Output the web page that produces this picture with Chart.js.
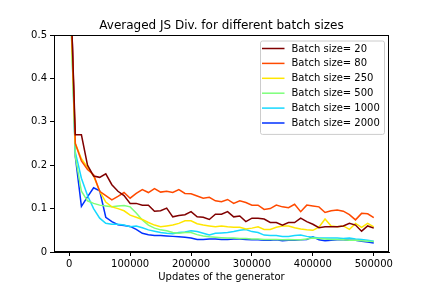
<!DOCTYPE html>
<html>
<head>
<meta charset="utf-8">
<script src="https://cdn.jsdelivr.net/npm/chart.js@4"></script>
<style>
  html, body { margin: 0; padding: 0; background: #fff; }
  #chart { display: block; }
</style>
</head>
<body>
<canvas id="chart" width="432" height="288"></canvas>
<script>
// x positions (generator updates), one point every 10000
const updates = [
  0, 10000, 20000, 30000, 40000, 50000, 60000, 70000, 80000, 90000,
  100000, 110000, 120000, 130000, 140000, 150000, 160000, 170000, 180000, 190000,
  200000, 210000, 220000, 230000, 240000, 250000, 260000, 270000, 280000, 290000,
  300000, 310000, 320000, 330000, 340000, 350000, 360000, 370000, 380000, 390000,
  400000, 410000, 420000, 430000, 440000, 450000, 460000, 470000, 480000, 490000,
  500000
];

const batchLabels = ["Batch size= 20", "Batch size= 80", "Batch size= 250",
  "Batch size= 500", "Batch size= 1000", "Batch size= 2000"];

const batch20 = [
  0.70, 0.27, 0.27, 0.20, 0.175, 0.172, 0.18, 0.155, 0.14, 0.13,
  0.112, 0.112, 0.108, 0.108, 0.094, 0.095, 0.101, 0.081, 0.084, 0.086,
  0.093, 0.081, 0.080, 0.075, 0.087, 0.087, 0.093, 0.081, 0.083, 0.070,
  0.078, 0.078, 0.076, 0.068, 0.068, 0.062, 0.068, 0.068, 0.078, 0.070,
  0.064, 0.056, 0.058, 0.058, 0.058, 0.060, 0.066, 0.062, 0.048, 0.060,
  0.055
];
const batch80 = [
  0.72, 0.25, 0.21, 0.19, 0.178, 0.14, 0.13, 0.12, 0.128, 0.137,
  0.124, 0.135, 0.144, 0.137, 0.146, 0.138, 0.140, 0.137, 0.144, 0.135,
  0.134, 0.129, 0.124, 0.126, 0.118, 0.116, 0.121, 0.112, 0.118, 0.114,
  0.108, 0.108, 0.098, 0.100, 0.108, 0.104, 0.102, 0.110, 0.093, 0.108,
  0.106, 0.104, 0.091, 0.095, 0.097, 0.094, 0.086, 0.074, 0.089, 0.088,
  0.079
];
const batch250 = [
  0.65, 0.25, 0.215, 0.195, 0.175, 0.14, 0.115, 0.104, 0.10, 0.095,
  0.085, 0.08, 0.075, 0.068, 0.062, 0.058, 0.060, 0.062, 0.066, 0.072,
  0.072, 0.065, 0.062, 0.060, 0.058, 0.060, 0.058, 0.057, 0.057, 0.053,
  0.055, 0.058, 0.052, 0.052, 0.057, 0.060, 0.060, 0.056, 0.053, 0.051,
  0.050, 0.057, 0.076, 0.060, 0.058, 0.060, 0.052, 0.066, 0.057, 0.066,
  0.058
];
const batch500 = [
  0.68, 0.22, 0.14, 0.118, 0.112, 0.108, 0.106, 0.104, 0.106, 0.107,
  0.104, 0.09, 0.074, 0.062, 0.055, 0.051, 0.049, 0.045, 0.043, 0.045,
  0.045, 0.040, 0.037, 0.035, 0.034, 0.033, 0.032, 0.032, 0.031, 0.031,
  0.030, 0.030, 0.029, 0.029, 0.029, 0.028, 0.029, 0.028, 0.028, 0.030,
  0.032, 0.031, 0.030, 0.029, 0.029, 0.028, 0.027, 0.027, 0.026, 0.025,
  0.024
];
const batch1000 = [
  0.66, 0.23, 0.17, 0.13, 0.10, 0.078, 0.066, 0.064, 0.064, 0.062,
  0.058, 0.060, 0.056, 0.051, 0.048, 0.045, 0.043, 0.042, 0.045, 0.046,
  0.049, 0.047, 0.043, 0.039, 0.043, 0.044, 0.045, 0.047, 0.050, 0.052,
  0.047, 0.045, 0.039, 0.038, 0.038, 0.036, 0.036, 0.038, 0.039, 0.036,
  0.034, 0.032, 0.032, 0.032, 0.032, 0.031, 0.032, 0.030, 0.029, 0.027,
  0.025
];
const batch2000 = [
  0.75, 0.22, 0.105, 0.127, 0.148, 0.141, 0.080, 0.070, 0.063, 0.061,
  0.059, 0.052, 0.043, 0.040, 0.038, 0.038, 0.037, 0.036, 0.035, 0.034,
  0.032, 0.029, 0.029, 0.030, 0.030, 0.029, 0.029, 0.030, 0.030, 0.029,
  0.028, 0.028, 0.027, 0.027, 0.028, 0.026, 0.027, 0.027, 0.028, 0.029,
  0.035, 0.028, 0.026, 0.027, 0.028, 0.028, 0.027, 0.027, 0.025, 0.023,
  0.021
];

const xTicks = [0, 100000, 200000, 300000, 400000, 500000];
const yTicks = [0, 0.1, 0.2, 0.3, 0.4, 0.5];
const yTickLabels = ["0", "0.1", "0.2", "0.3", "0.4", "0.5"];

const seriesValues = [batch20, batch80, batch250, batch500, batch1000, batch2000];
const colors = ["#800000", "#ff4a00", "#ffe600", "#7dff7a", "#16d8ff", "#0030ff"];

const FONT = "'DejaVu Sans', sans-serif";

// axes box, title, xlabel and in-axes legend like matplotlib
const decorPlugin = {
  id: "decor",
  afterDatasetsDraw(chart) {
    const ctx = chart.ctx;
    const ca = chart.chartArea;
    ctx.save();
    ctx.strokeStyle = "#000";
    ctx.lineWidth = 1;
    ctx.strokeRect(ca.left + 0.5, ca.top + 0.5, ca.right - ca.left - 1, ca.bottom - ca.top - 1);

    // legend
    const boxRight = ca.right - 5;
    const boxLeft = boxRight - 124;
    const boxTop = ca.top + 5.5;
    const rowH = 14.9;
    const boxBottom = boxTop + 6 * rowH + 4;
    ctx.fillStyle = "rgba(255,255,255,0.8)";
    ctx.strokeStyle = "#cccccc";
    ctx.beginPath();
    ctx.roundRect(boxLeft + 0.5, boxTop + 0.5, boxRight - boxLeft, boxBottom - boxTop, 2);
    ctx.fill();
    ctx.stroke();
    ctx.font = "10px " + FONT;
    ctx.textBaseline = "middle";
    ctx.textAlign = "left";
    chart.data.datasets.forEach((ds, i) => {
      const y = boxTop + 8 + i * rowH;
      ctx.strokeStyle = ds.borderColor;
      ctx.lineWidth = 1.5;
      ctx.beginPath();
      ctx.moveTo(boxLeft + 2, y);
      ctx.lineTo(boxLeft + 24.5, y);
      ctx.stroke();
      ctx.fillStyle = "#000";
      ctx.fillText(ds.label, boxLeft + 31.5, y + 0.5);
    });

    // title and x label
    const cx = (ca.left + ca.right) / 2;
    ctx.fillStyle = "#000";
    ctx.textAlign = "center";
    ctx.textBaseline = "alphabetic";
    ctx.font = "12px " + FONT;
    ctx.fillText("Averaged JS Div. for different batch sizes", cx, ca.top - 6);
    ctx.font = "10px " + FONT;
    ctx.fillText("Updates of the generator", cx, 280);
    ctx.restore();
  }
};

const datasets = seriesValues.map((vals, i) => ({
  label: batchLabels[i],
  data: updates.map((u, j) => ({ x: u, y: vals[j] })),
  borderColor: colors[i],
  backgroundColor: colors[i],
  borderWidth: 1.5,
  pointRadius: 0,
  tension: 0,
  fill: false,
  clip: 0
}));

new Chart(document.getElementById("chart").getContext("2d"), {
  type: "line",
  data: { datasets },
  options: {
    responsive: false,
    animation: false,
    devicePixelRatio: 1,
    layout: { padding: { top: 35, right: 43, left: 0, bottom: 0 } },
    plugins: {
      legend: { display: false },
      title: { display: false },
      tooltip: { enabled: false }
    },
    scales: {
      x: {
        type: "linear",
        min: -25000,
        max: 525000,
        afterBuildTicks: s => { s.ticks = xTicks.map(v => ({ value: v })); },
        afterFit: s => { s.height = 36; },
        grid: { display: true, drawOnChartArea: false, drawTicks: true, tickLength: 4, color: "#000" },
        border: { display: true, color: "#000" },
        ticks: {
          color: "#000",
          font: { family: FONT, size: 10 },
          padding: 2,
          maxRotation: 0,
          callback: v => String(v)
        }
      },
      y: {
        type: "linear",
        min: 0,
        max: 0.5,
        afterBuildTicks: s => { s.ticks = yTicks.map(v => ({ value: v })); },
        afterFit: s => { s.width = 54; },
        grid: { display: true, drawOnChartArea: false, drawTicks: true, tickLength: 4, color: "#000" },
        border: { display: true, color: "#000" },
        ticks: {
          color: "#000",
          font: { family: FONT, size: 10 },
          padding: 3,
          callback: (v, i) => yTickLabels[i]
        }
      }
    }
  },
  plugins: [decorPlugin]
});
</script>
</body>
</html>
